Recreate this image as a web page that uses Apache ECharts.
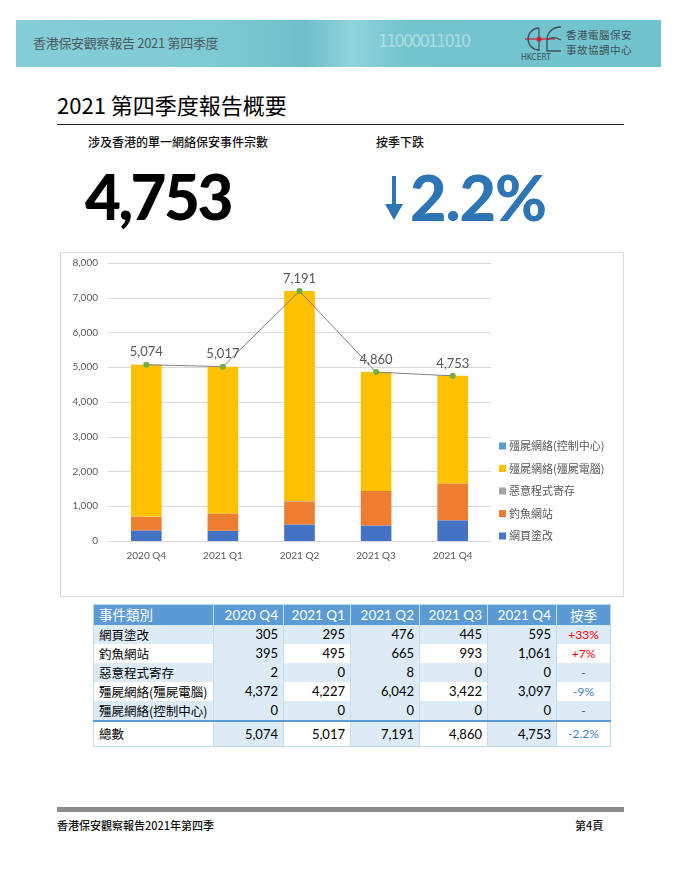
<!DOCTYPE html>
<html>
<head>
<meta charset="utf-8">
<script src="https://cdn.jsdelivr.net/npm/echarts@6/dist/echarts.min.js"></script>
<style>
  html,body{margin:0;padding:0;background:#fff;}
  body{width:680px;height:880px;position:relative;overflow:hidden;font-family:Lato,"Noto Sans CJK TC",sans-serif;}
  .abs{position:absolute;}
  #banner{left:16px;top:20px;width:645px;height:47px;
    background:linear-gradient(90deg,#86ced7 0%,#7ecad3 30%,#6fbfca 45%,#8fd3db 52%,#74c4ce 60%,#70c3cd 100%);}
  #bannerText{left:17px;top:13px;font-size:13px;color:#4a5a5f;font-family:"Noto Sans CJK TC",sans-serif;letter-spacing:-0.3px;}
  #bits{left:362px;top:10px;font-size:18px;color:rgba(255,255,255,0.4);font-family:"DejaVu Sans Condensed","Liberation Sans Narrow",sans-serif;letter-spacing:-2px;}
  #logoText1{left:550px;top:7px;font-size:10.5px;color:#3f4f55;font-family:"Noto Sans CJK TC";letter-spacing:0.5px;}
  #logoText2{left:550px;top:22px;font-size:10.5px;color:#3f4f55;font-family:"Noto Sans CJK TC";letter-spacing:0.5px;}
  #hk{left:505px;top:32px;font-size:8.5px;color:#3f4f55;font-family:"Liberation Sans Narrow","DejaVu Sans Condensed",sans-serif;}
  #title{left:57px;top:88px;font-size:22px;color:#000;font-family:"Noto Sans CJK TC",sans-serif;}
  #rule{left:57px;top:124px;width:567px;height:1px;background:#222;}
  .sub{top:133px;font-size:12px;color:#111;font-family:"Noto Sans CJK TC",sans-serif;font-weight:500;}
  #big1{left:85px;top:159px;font-size:62px;font-weight:900;color:#000;font-family:Lato,sans-serif;letter-spacing:-2.5px;}
  #big2{left:410px;top:159px;font-size:63px;font-weight:900;color:#2e75b6;font-family:Lato,sans-serif;letter-spacing:-1px;}
  #chartBox{left:60px;top:252px;width:564px;height:345px;border:1px solid #d9d9d9;box-sizing:border-box;}
  #chart{width:100%;height:100%;}
  table{position:absolute;left:93px;top:604px;border-collapse:collapse;font-family:Lato,"Noto Sans CJK TC",sans-serif;font-size:13px;color:#000;border:1px solid #bdd7ee;}
  td,th{padding:0 5px;height:19px;line-height:19px;border-left:1px solid #c8dcef;white-space:nowrap;}
  th{background:#5b9bd5;color:#fff;font-weight:normal;text-align:right;font-size:13.5px;height:20px;}
  th:first-child{text-align:left;}
  td{text-align:right;}
  td:first-child{text-align:left;font-family:"Noto Sans CJK TC",sans-serif;font-size:12.5px;}
  .band{background:#ddebf7;}
  tr.total td{height:24px;line-height:24px;border-top:2px solid #5b9bd5;}
  td.q{text-align:center;font-size:12px;}
  #footRule{left:57px;top:807px;width:567px;height:5px;background:#8c8c8c;}
  .foot{top:817px;font-size:11px;color:#111;font-family:"Noto Sans CJK TC",sans-serif;font-weight:500;}
</style>
</head>
<body>
<div id="banner" class="abs">
  <div id="bannerText" class="abs">香港保安觀察報告 2021 第四季度</div>
  <div id="bits" class="abs">11000011010</div>
  <svg class="abs" style="left:505px;top:4px" width="44" height="30" viewBox="0 0 44 30">
    <path d="M18 4 A11 11 0 1 0 18 26" fill="none" stroke="#3f4f55" stroke-width="1.3"/>
    <path d="M40 3 C30 3 26 10 26 16 L26 27 L40 27" fill="none" stroke="#3f4f55" stroke-width="1.3"/>
    <path d="M26 16 C30 12 36 14 40 16" fill="none" stroke="#3f4f55" stroke-width="1.3"/>
    <line x1="4" y1="15" x2="34" y2="15" stroke="#c0213a" stroke-width="1.2"/>
    <line x1="18" y1="4" x2="18" y2="27" stroke="#3f4f55" stroke-width="1.2"/>
    <circle cx="18" cy="15" r="2.6" fill="#d0213a"/>
  </svg>
  <div id="hk" class="abs">HKCERT</div>
  <div id="logoText1" class="abs">香港電腦保安</div>
  <div id="logoText2" class="abs">事故協調中心</div>
</div>
<div id="title" class="abs">2021 第四季度報告概要</div>
<div id="rule" class="abs"></div>
<div class="abs sub" style="left:88px">涉及香港的單一網絡保安事件宗數</div>
<div class="abs sub" style="left:376px">按季下跌</div>
<div id="big1" class="abs"></div>
<svg class="abs" style="left:385px;top:176px" width="18" height="45" viewBox="0 0 18 45">
  <rect x="7" y="0" width="4" height="32" fill="#2e75b6"/>
  <polygon points="0,28 18,28 9,44" fill="#2e75b6"/>
</svg>
<div id="big2" class="abs"></div>
<div id="chartBox" class="abs"><div id="chart"></div></div>
<table id="tbl"></table>
<div id="footRule" class="abs"></div>
<div class="abs foot" style="left:57px">香港保安觀察報告2021年第四季</div>
<div class="abs foot" style="left:575px">第4頁</div>

<script>
// ---- data ----
const quarters = ["2020 Q4", "2021 Q1", "2021 Q2", "2021 Q3", "2021 Q4"];
const seriesNames = ["網頁塗改", "釣魚網站", "惡意程式寄存", "殭屍網絡(殭屍電腦)", "殭屍網絡(控制中心)"];
const defacement = [305, 295, 476, 445, 595];
const phishing = [395, 495, 665, 993, 1061];
const malwareHosting = [2, 0, 8, 0, 0];
const botnetBots = [4372, 4227, 6042, 3422, 3097];
const botnetCC = [0, 0, 0, 0, 0];
const totals = [5074, 5017, 7191, 4860, 4753];
const qoqChange = ["+33%", "+7%", "-", "-9%", "-", "-2.2%"];
const headlineTotal = "4,753";
const headlineChange = "2.2%";
const yTicks = { min: 0, max: 8000, interval: 1000 };
const colors = ["#4472c4", "#ed7d31", "#a5a5a5", "#ffc000", "#5b9bd5"];

const seriesValues = [defacement, phishing, malwareHosting, botnetBots, botnetCC];
const fmt = v => Number(v).toLocaleString("en-US");

document.getElementById("big1").textContent = headlineTotal;
document.getElementById("big2").textContent = headlineChange;

// ---- table ----
(function buildTable(){
  const t = document.getElementById("tbl");
  let html = "<tr><th>事件類別</th>" + quarters.map(q => "<th>" + q + "</th>").join("") + '<th style="text-align:center;font-family:\'Noto Sans CJK TC\'">按季</th></tr>';
  const rows = seriesNames.map((n, i) => ({ name: n, vals: seriesValues[i], q: qoqChange[i] }));
  rows.push({ name: "總數", vals: totals, q: qoqChange[5], total: true });
  rows.forEach((r, ri) => {
    const oddRow = ri % 2 === 0 && !r.total;
    html += "<tr" + (r.total ? ' class="total"' : "") + ">";
    html += '<td class="' + (oddRow ? "band" : "") + '">' + r.name + "</td>";
    r.vals.forEach((v, ci) => {
      const bandCol = ci % 2 === 0;
      html += '<td class="' + (oddRow || bandCol ? "band" : "") + '">' + fmt(v) + "</td>";
    });
    const c = r.q.startsWith("+") ? "#ff0000" : (r.q === "-" ? "#555" : "#3f7fbf");
    html += '<td class="q ' + (oddRow ? "band" : "") + '" style="color:' + c + '">' + r.q + "</td>";
    html += "</tr>";
  });
  t.innerHTML = html;
  const widths = [120, 70, 67, 69, 68, 69, 54];
  const hdr = t.rows[0].cells;
  for (let i = 0; i < hdr.length; i++) hdr[i].style.width = (widths[i] - 11) + "px";
})();

// ---- chart ----
const chart = echarts.init(document.getElementById("chart"), null, { renderer: "canvas" });
const barSeries = seriesNames.map((n, i) => ({
  name: n,
  type: "bar",
  stack: "total",
  data: seriesValues[i],
  barWidth: "40%",
  itemStyle: { color: colors[i] },
  emphasis: { disabled: true }
}));
chart.setOption({
  animation: false,
  textStyle: { fontFamily: "Lato, 'Noto Sans CJK TC', sans-serif" },
  grid: { left: 47, right: 132, top: 10, bottom: 55, containLabel: false, outerBoundsMode: "none" },
  legend: {
    orient: "vertical",
    left: 433,
    top: 181,
    data: seriesNames.slice().reverse(),
    icon: "rect",
    itemWidth: 7,
    itemHeight: 7,
    itemGap: 8.5,
    textStyle: { color: "#595959", fontSize: 11, lineHeight: 14, fontFamily: "'Noto Sans CJK TC', sans-serif", padding: [0, 0, 0, -2] },
    selectedMode: false
  },
  xAxis: {
    type: "category",
    data: quarters,
    axisLine: { lineStyle: { color: "#d9d9d9" } },
    axisTick: { show: false },
    axisLabel: { color: "#595959", fontSize: 10, margin: 10 }
  },
  yAxis: {
    type: "value",
    min: yTicks.min, max: yTicks.max, interval: yTicks.interval,
    axisLine: { show: false },
    axisTick: { show: false },
    splitLine: { lineStyle: { color: "#d9d9d9" } },
    axisLabel: { color: "#595959", fontSize: 10, margin: 10, formatter: v => fmt(v) }
  },
  series: barSeries.concat([{
    name: "總數",
    type: "line",
    data: totals,
    symbol: "circle",
    symbolSize: 6,
    lineStyle: { color: "#7f7f7f", width: 1 },
    itemStyle: { color: "#70ad47" },
    label: { show: true, position: "top", distance: 3, color: "#595959", fontSize: 13, formatter: p => fmt(p.value) },
    z: 5
  }])
});
</script>
</body>
</html>
